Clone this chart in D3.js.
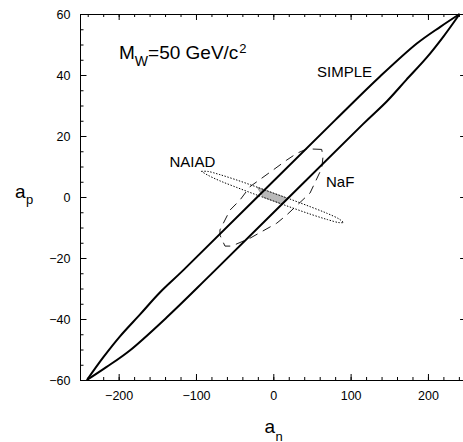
<!DOCTYPE html>
<html>
<head>
<meta charset="utf-8">
<script src="https://cdn.jsdelivr.net/npm/d3@7"></script>
<style>
  html, body { margin: 0; padding: 0; background: #fff; }
  svg { display: block; }
  text { font-family: "Liberation Sans", Arial, sans-serif; fill: #000; }
</style>
</head>
<body>
<svg id="chart" width="463" height="442"></svg>
<script>
// Exclusion contours in the (a_n, a_p) plane for M_W = 50 GeV/c^2

// SIMPLE: closed contour, split into its two long edges (tip to tip)
const simpleUpper = [
  [-241, -60], [-220, -52.6], [-198, -45.6], [-172, -38.4], [-147, -31.4],
  [-116, -23.9], [80, 25.2], [138, 39.5], [186, 50.4], [216, 55.8], [241, 60]
];
const simpleLower = [
  [-241, -60], [-216, -55.8], [-186, -50.4], [-138, -39.5], [-80, -25.2],
  [116, 23.9], [147, 31.4], [172, 38.4], [198, 45.6], [220, 52.6], [241, 60]
];

// NAIAD: narrow band, two edges meeting at the tips
const naiadUpper = [
  [-93, 8.4], [-85, 8.4], [-70, 7.4], [-50, 5.8], [-25, 3.6], [0, 1.3],
  [25, -1.0], [50, -3.4], [70, -5.4], [85, -7.2], [91, -8.4]
];
const naiadLower = [
  [-93, 8.4], [-85, 7.2], [-70, 5.4], [-50, 3.4], [-25, 1.0], [0, -1.3],
  [25, -3.6], [50, -5.8], [70, -7.4], [85, -8.4], [91, -8.4]
];

// NaF: closed contour traced around
const nafContour = [
  [62.6, 15.6], [43.6, 15.8], [30.3, 14.3], [17.3, 12.1], [0, 8.9],
  [-30.1, 3.4], [-43.1, -1.0], [-56, -4.3], [-69, -10.8], [-69, -12.5],
  [-62.5, -16.1], [-53.8, -16.1], [-30.1, -13.5], [4.4, -8.6], [17.3, -5.9],
  [47.5, 1.3], [62.6, 9.4], [64.3, 13.2], [62.6, 15.6]
];

// Region allowed by both SIMPLE and NAIAD
const overlap = [[-20.8, 3.2], [19.2, -0.5], [11.7, -2.4], [-13, -0.1]];

const xMajor = [-200, -100, 0, 100, 200];
const yMajor = [-60, -40, -20, 0, 20, 40, 60];
const xMinor = d3.range(-240, 241, 20);
const yMinor = d3.range(-60, 61, 5);

const labels = [
  { text: "SIMPLE", x: 317, y: 77 },
  { text: "NAIAD", x: 169.5, y: 167 },
  { text: "NaF", x: 326, y: 187 }
];

const svg = d3.select("#chart");
const x = d3.scaleLinear().domain([-250, 250]).range([80, 466.6]);
const y = d3.scaleLinear().domain([-60, 60]).range([380, 14]);

const line = d3.line().x(d => x(d[0])).y(d => y(d[1]));
const smooth = d3.line().x(d => x(d[0])).y(d => y(d[1])).curve(d3.curveCatmullRom.alpha(0.5));
const closed = (a, b) => a.concat(b.slice().reverse());

// Shaded overlap
svg.append("path")
  .attr("d", line(overlap) + "Z")
  .attr("fill", "#b9b9b9")
  .attr("stroke", "#666")
  .attr("stroke-width", 0.5);

// NAIAD (dotted)
svg.append("path")
  .attr("d", smooth(closed(naiadUpper, naiadLower)))
  .attr("fill", "none")
  .attr("stroke", "#000")
  .attr("stroke-width", 1)
  .attr("stroke-dasharray", "1.4,1.6");

// NaF (dashed)
svg.append("path")
  .attr("d", line(nafContour))
  .attr("fill", "none")
  .attr("stroke", "#000")
  .attr("stroke-width", 0.9)
  .attr("stroke-dasharray", "9,6");

// SIMPLE (thick solid), each edge drawn tip to tip
[simpleUpper, simpleLower].forEach(edge => {
  svg.append("path")
    .attr("d", smooth(edge))
    .attr("fill", "none")
    .attr("stroke", "#000")
    .attr("stroke-width", 2)
    .attr("stroke-linejoin", "round");
});

// Axes: ticks on all four sides, pointing inward
const fontSize = "12.5px";
function styleAxis(g) {
  g.selectAll(".domain").attr("stroke", "#000").attr("stroke-width", 1);
  g.selectAll(".tick line").attr("stroke", "#000").attr("stroke-width", 1);
  g.selectAll("text").attr("font-size", fontSize)
    .attr("font-family", "Liberation Sans, Arial, sans-serif").attr("fill", "#000");
}

// bottom
svg.append("g").attr("transform", `translate(0,${y(-60)})`)
  .call(d3.axisBottom(x).tickValues(xMinor).tickSize(-3).tickFormat("").tickSizeOuter(0))
  .call(styleAxis);
svg.append("g").attr("transform", `translate(0,${y(-60)})`)
  .call(d3.axisBottom(x).tickValues(xMajor).tickSize(-6).tickPadding(11).tickSizeOuter(0)
    .tickFormat(d3.format("d")))
  .call(styleAxis);
// top
svg.append("g").attr("transform", `translate(0,${y(60)})`)
  .call(d3.axisTop(x).tickValues(xMinor).tickSize(-3).tickFormat("").tickSizeOuter(0))
  .call(styleAxis);
svg.append("g").attr("transform", `translate(0,${y(60)})`)
  .call(d3.axisTop(x).tickValues(xMajor).tickSize(-6).tickFormat("").tickSizeOuter(0))
  .call(styleAxis);
// left
svg.append("g").attr("transform", `translate(${x(-250)},0)`)
  .call(d3.axisLeft(y).tickValues(yMinor).tickSize(-3.5).tickFormat("").tickSizeOuter(0))
  .call(styleAxis);
svg.append("g").attr("transform", `translate(${x(-250)},0)`)
  .call(d3.axisLeft(y).tickValues(yMajor).tickSize(-6.5).tickPadding(9.5).tickSizeOuter(0)
    .tickFormat(d3.format("d")))
  .call(styleAxis);
// right
svg.append("g").attr("transform", `translate(${x(250)},0)`)
  .call(d3.axisRight(y).tickValues(yMinor).tickSize(-3.5).tickFormat("").tickSizeOuter(0))
  .call(styleAxis);
svg.append("g").attr("transform", `translate(${x(250)},0)`)
  .call(d3.axisRight(y).tickValues(yMajor).tickSize(-6.5).tickFormat("").tickSizeOuter(0))
  .call(styleAxis);

// Curve labels
svg.selectAll("text.curve-label").data(labels).enter().append("text")
  .attr("class", "curve-label")
  .attr("x", d => d.x).attr("y", d => d.y)
  .attr("font-size", "15px")
  .text(d => d.text);

// Mass label
const mass = svg.append("text").attr("x", 119).attr("y", 59.3).attr("font-size", "19px");
mass.append("tspan").text("M");
mass.append("tspan").attr("font-size", "14px").attr("dy", 6.5).text("W");
mass.append("tspan").attr("dy", -6.5).text("=50 GeV/c");
mass.append("tspan").attr("font-size", "13px").attr("dy", -6.5).attr("dx", 1).text("2");

// Axis titles
const ap = svg.append("text").attr("x", 15).attr("y", 198).attr("font-size", "19px");
ap.append("tspan").text("a");
ap.append("tspan").attr("font-size", "13px").attr("dy", 6).attr("dx", 0.5).text("p");

const an = svg.append("text").attr("x", 264.5).attr("y", 433).attr("font-size", "19px");
an.append("tspan").text("a");
an.append("tspan").attr("font-size", "13px").attr("dy", 7.5).attr("dx", 0.5).text("n");
</script>
</body>
</html>
